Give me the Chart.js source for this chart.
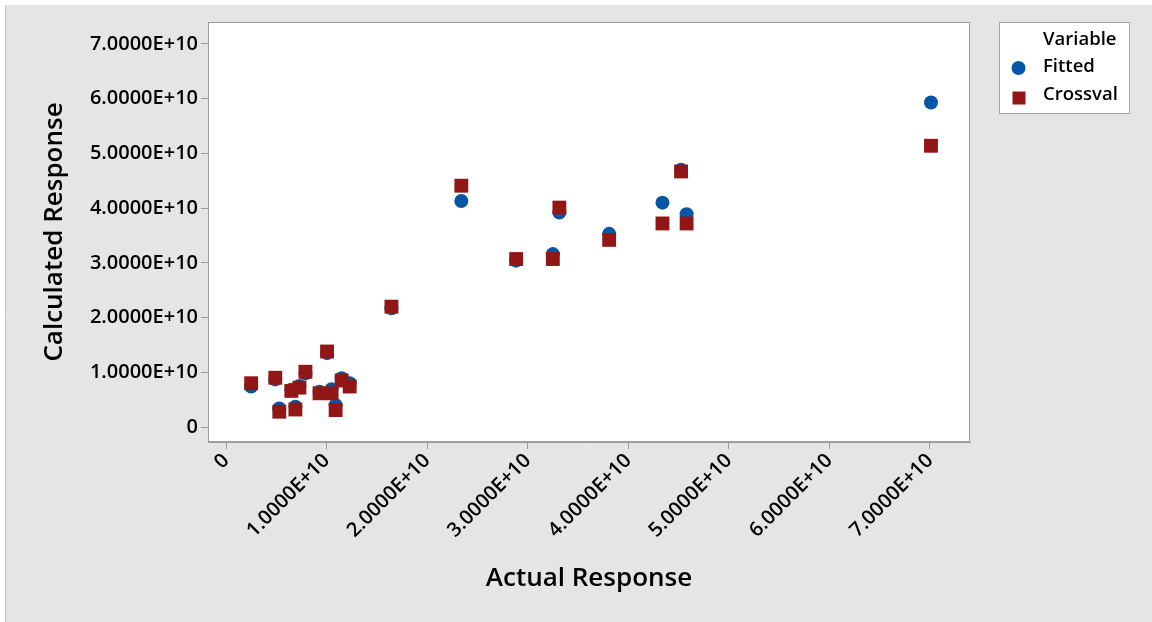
<!DOCTYPE html>
<html>
<head>
<meta charset="utf-8">
<title>Calculated vs Actual Response</title>
<script src="https://cdn.jsdelivr.net/npm/chart.js@4/dist/chart.umd.min.js"></script>
<style>
  html, body { margin: 0; padding: 0; background: #ffffff; }
  #wrap { width: 1152px; height: 622px; }
</style>
</head>
<body>
<div id="wrap"><canvas id="chart" width="1152" height="622"></canvas></div>
<script>
// Actual response of each observation and the two calculated responses
const actualResponse = [0.25e10, 0.49e10, 0.53e10, 0.65e10, 0.69e10, 0.73e10, 0.79e10, 0.93e10,
  1.005e10, 1.05e10, 1.09e10, 1.15e10, 1.23e10, 1.645e10, 2.34e10, 2.885e10, 3.25e10, 3.315e10,
  3.81e10, 4.34e10, 4.525e10, 4.58e10, 7.01e10];
const fittedResponse = [0.74e10, 0.87e10, 0.34e10, 0.68e10, 0.37e10, 0.75e10, 0.98e10, 0.645e10,
  1.35e10, 0.69e10, 0.40e10, 0.89e10, 0.80e10, 2.17e10, 4.13e10, 3.04e10, 3.16e10, 3.92e10,
  3.53e10, 4.10e10, 4.70e10, 3.89e10, 5.93e10];
const crossvalResponse = [0.80e10, 0.90e10, 0.28e10, 0.66e10, 0.32e10, 0.72e10, 1.01e10, 0.616e10,
  1.38e10, 0.616e10, 0.31e10, 0.85e10, 0.74e10, 2.20e10, 4.41e10, 3.07e10, 3.07e10, 4.01e10,
  3.42e10, 3.72e10, 4.67e10, 3.72e10, 5.14e10];

// Axis ticks
const tickValues = [0, 1e10, 2e10, 3e10, 4e10, 5e10, 6e10, 7e10];
const tickLabels = ['0', '1.0000E+10', '2.0000E+10', '3.0000E+10', '4.0000E+10', '5.0000E+10', '6.0000E+10', '7.0000E+10'];

const seriesNames = ['Fitted', 'Crossval'];
const legendTitle = 'Variable';

const BLUE = '#0656a6';
const RED = '#931616';
const AXIS_GREY = '#9c9c9c';
const FONT = '"Open Sans", "Noto Sans", sans-serif';

const toPoints = (xs, ys) => xs.map((x, i) => ({ x: x, y: ys[i] }));

// Grey panel behind everything, white plot area with a thin frame
const panelPlugin = {
  id: 'panel',
  beforeDraw(chart) {
    const { ctx, chartArea: a, width, height } = chart;
    ctx.save();
    ctx.fillStyle = '#ffffff';
    ctx.fillRect(0, 0, width, height);
    ctx.fillStyle = '#e5e5e5';
    ctx.fillRect(6, 5, width - 6, height - 5);
    ctx.strokeStyle = '#c4c4c4';
    ctx.lineWidth = 1;
    ctx.beginPath();
    ctx.moveTo(5.5, 5);
    ctx.lineTo(5.5, height);
    ctx.stroke();
    ctx.fillStyle = '#ffffff';
    ctx.fillRect(a.left, a.top, a.right - a.left, a.bottom - a.top);
    ctx.restore();
  },
  beforeDatasetsDraw(chart) {
    const { ctx, chartArea: a } = chart;
    ctx.save();
    ctx.strokeStyle = AXIS_GREY;
    ctx.lineWidth = 1;
    ctx.strokeRect(Math.round(a.left) + 0.5, Math.round(a.top) + 0.5,
      Math.round(a.right - a.left) - 1, Math.round(a.bottom - a.top) - 1);
    ctx.restore();
  }
};

// Boxed legend with a title line, drawn in the right margin
const boxedLegendPlugin = {
  id: 'boxedLegend',
  afterDraw(chart) {
    const { ctx } = chart;
    const left = 999.5, top = 22.5, w = 130, h = 91;
    ctx.save();
    ctx.fillStyle = '#ffffff';
    ctx.fillRect(left, top, w, h);
    ctx.strokeStyle = '#a4a4a4';
    ctx.lineWidth = 1;
    ctx.strokeRect(left, top, w, h);
    ctx.fillStyle = '#000000';
    ctx.font = '600 18.5px ' + FONT;
    ctx.textAlign = 'left';
    ctx.textBaseline = 'middle';
    ctx.fillText(legendTitle, 1043, 40);
    const rows = [67, 95];
    chart.data.datasets.forEach((ds, i) => {
      const y = rows[i];
      ctx.fillStyle = ds.backgroundColor;
      if (ds.pointStyle === 'circle') {
        ctx.beginPath();
        ctx.arc(1018.5, y + 1, 7, 0, Math.PI * 2);
        ctx.fill();
      } else {
        ctx.fillRect(1012.5, y - 3.5, 13, 13);
      }
      ctx.fillStyle = '#000000';
      ctx.fillText(ds.label, 1043, y);
    });
    ctx.restore();
  }
};

const tickFont = { family: FONT, size: 20, weight: '600' };
const titleFont = { family: FONT, size: 26, weight: '600' };

new Chart(document.getElementById('chart'), {
  type: 'scatter',
  data: {
    datasets: [
      {
        label: seriesNames[0],
        data: toPoints(actualResponse, fittedResponse),
        pointStyle: 'circle',
        pointRadius: 7,
        pointHoverRadius: 7,
        backgroundColor: BLUE,
        borderWidth: 0,
        order: 2
      },
      {
        label: seriesNames[1],
        data: toPoints(actualResponse, crossvalResponse),
        pointStyle: 'rect',
        pointRadius: 9.8,
        pointHoverRadius: 9.8,
        backgroundColor: RED,
        borderWidth: 0,
        order: 1
      }
    ]
  },
  options: {
    responsive: false,
    animation: false,
    events: [],
    layout: { padding: { top: 22, right: 182, bottom: 0, left: 0 } },
    plugins: {
      legend: { display: false },
      tooltip: { enabled: false }
    },
    scales: {
      x: {
        type: 'linear',
        min: -0.179e10,
        max: 7.398e10,
        afterBuildTicks(scale) { scale.ticks = tickValues.map(v => ({ value: v })); },
        afterFit(scale) { scale.height = 180; },
        ticks: {
          autoSkip: false,
          maxRotation: 45,
          minRotation: 45,
          padding: 0,
          color: '#000000',
          font: tickFont,
          callback: (v, i) => tickLabels[i]
        },
        grid: { drawOnChartArea: false, drawTicks: true, tickLength: 7, color: AXIS_GREY },
        border: { display: true, color: AXIS_GREY },
        title: {
          display: true,
          text: 'Actual Response',
          color: '#000000',
          font: titleFont,
          padding: { top: 0, bottom: 28 }
        }
      },
      y: {
        type: 'linear',
        min: -0.274e10,
        max: 7.402e10,
        afterBuildTicks(scale) { scale.ticks = tickValues.map(v => ({ value: v })); },
        afterFit(scale) { scale.width = 208; },
        ticks: {
          padding: 3,
          color: '#000000',
          font: tickFont,
          callback: (v, i) => tickLabels[i]
        },
        grid: { drawOnChartArea: false, drawTicks: true, tickLength: 7, color: AXIS_GREY },
        border: { display: true, color: AXIS_GREY },
        title: {
          display: true,
          text: 'Calculated Response',
          color: '#000000',
          font: titleFont,
          padding: { top: 39, bottom: 0 }
        }
      }
    }
  },
  plugins: [panelPlugin, boxedLegendPlugin]
});
</script>
</body>
</html>
